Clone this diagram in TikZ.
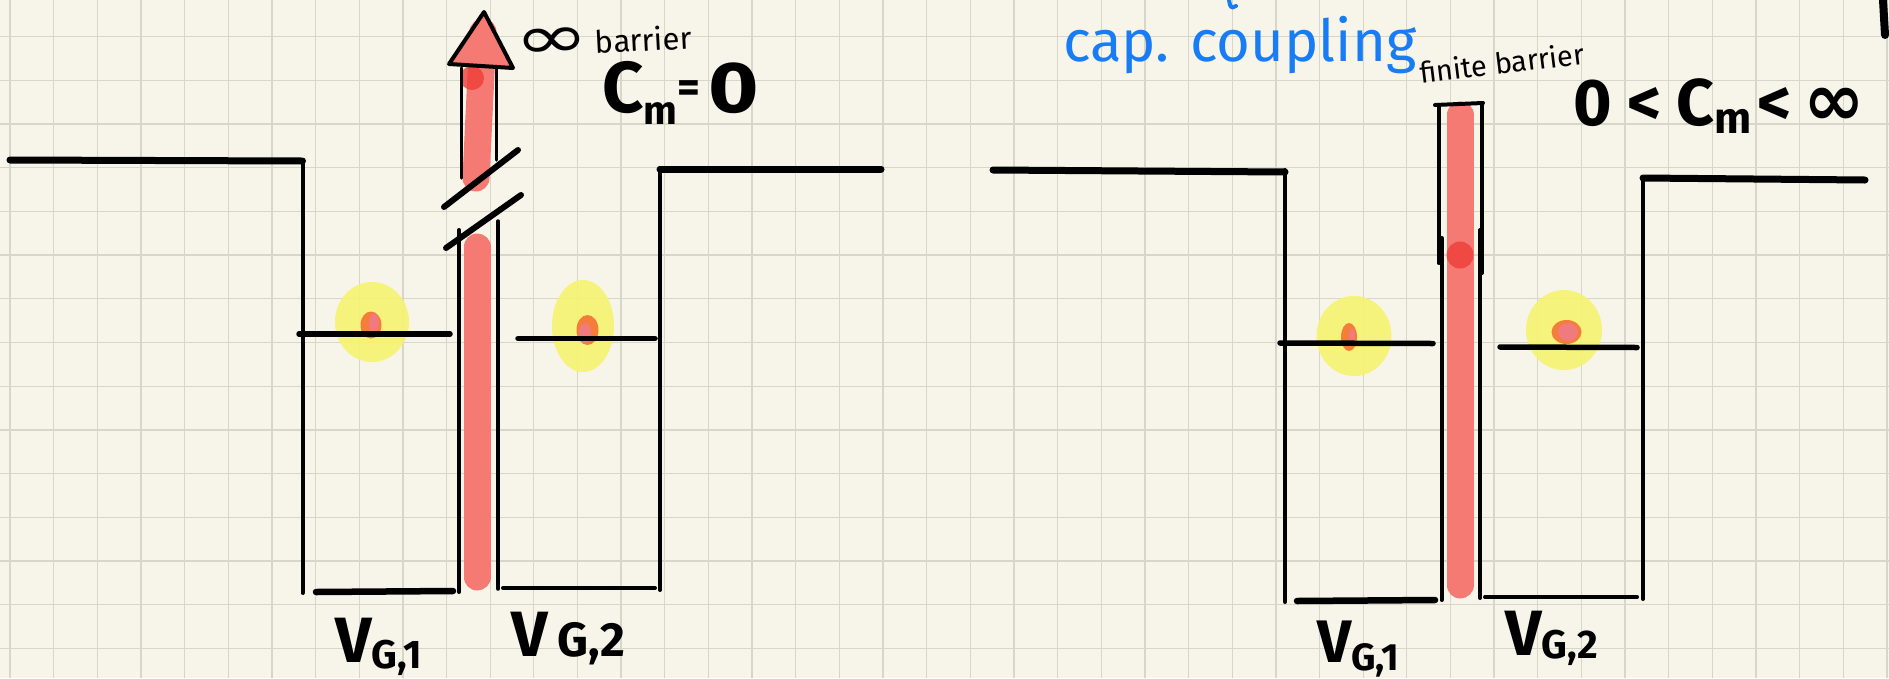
\documentclass[tikz,border=0pt]{standalone}
\usepackage{fontspec}
\setmainfont{Fira Sans}
\newfontfamily\dejavu{DejaVu Sans}
\definecolor{paper}{RGB}{247,245,233}
\definecolor{gridc}{RGB}{216,214,200}
\definecolor{barred}{RGB}{244,122,115}
\definecolor{darkred}{RGB}{240,60,56}
\definecolor{hiyel}{RGB}{245,243,112}
\definecolor{dotor}{RGB}{245,125,58}
\definecolor{dotpk}{RGB}{240,122,125}
\definecolor{inkblue}{RGB}{24,124,245}
\tikzset{
 wall/.style={line width=4pt, line cap=round},
 thinwall/.style={line width=3.5pt, line cap=round},
 plateau/.style={line width=7pt, line cap=round},
 level/.style={line width=5.5pt, line cap=round},
 floorline/.style={line width=6.5pt, line cap=round},
 thinfloor/.style={line width=4pt, line cap=round},
 slash/.style={line width=6pt, line cap=round},
 redbar/.style={line width=27pt, line cap=round, draw=barred},
 glow/.style={fill=hiyel, fill opacity=0.9},
 lbl/.style={inner sep=0pt, font=\bfseries},
 note/.style={inner sep=0pt},
}
\begin{document}
\begin{tikzpicture}[x=1pt,y=-1pt]
\useasboundingbox (0,0) rectangle (1889,678);
\fill[paper] (0,0) rectangle (1889,678);
% grid
\foreach \i in {0,...,43} \draw[gridc, line width=1.3pt] ({10+43.65*\i},0) -- ({10+43.65*\i},678);
\foreach \j in {0,...,14} \draw[gridc, line width=1.3pt] (0,{36.6+43.7*\j}) -- (1889,{36.6+43.7*\j});

% ================= LEFT DIAGRAM =================
% highlights
\fill[glow] (372,322) ellipse [x radius=37, y radius=40];
\fill[glow] (583,326) ellipse [x radius=31, y radius=46];
\fill[dotor] (371,325) ellipse [x radius=10.5, y radius=13.5];
\fill[dotpk] (374,323) ellipse [x radius=5, y radius=10];
\fill[dotor] (587.5,330) ellipse [x radius=11, y radius=15];
\fill[dotpk] (585,333) ellipse [x radius=6, y radius=10];
% red barrier
\draw[redbar] (483,32) -- (476,178);
\draw[redbar] (477,247) -- (477,577);
\fill[barred] (484,12) -- (449,64) -- (513,68) -- cycle;
\fill[darkred, opacity=0.8] (472,78) circle (12);
\draw[line width=4pt, line join=round, line cap=round] (484,12) -- (449,64) -- (513,68) -- cycle;
% barrier stems
\draw[thinwall] (461.5,68) -- (461.5,178);
\draw[thinwall] (496.5,68) -- (496.5,160);
\draw[wall] (459,230) -- (459,592);
\draw[thinwall] (498,221) -- (498,589);
% break marks
\draw[slash] (444,207) -- (518,150);
\draw[slash] (446,248) -- (521,195);
% left well
\draw[plateau] (10,160) -- (302.5,161);
\draw[wall] (302.5,160) -- (302.5,593);
\draw[level] (299,334) -- (450,334);
\draw[floorline] (316,592) -- (453,591);
% right well
\draw[wall] (660,168) -- (660,590);
\draw[plateau] (660,169) -- (881,169);
\draw[level] (518,338.5) -- (655,338.5);
\draw[thinfloor] (503,588) -- (655,588);
% labels
\node[note, anchor=base west, rotate=3] (inflbl) at (515,58)
  {\raisebox{-3pt}{\fontsize{62}{62}\selectfont\dejavu\scalebox{1.45}[1.0]{∞}}\hspace{6pt}{\fontsize{31}{31}\selectfont barrier}};
\node[lbl, anchor=base west] (cmzero) at (602,112)
  {\fontsize{72}{72}\selectfont C\raisebox{-12pt}{\fontsize{40}{40}\selectfont m}\raisebox{10pt}{\fontsize{44}{44}\selectfont =}\hspace{8pt}\scalebox{1.2}[1]{0}};
\node[lbl, anchor=base west] (vgaL) at (335,662)
  {\fontsize{64}{64}\selectfont V\raisebox{-6pt}{\fontsize{40}{40}\selectfont G,1}};
\node[lbl, anchor=base west] (vgbL) at (511,656)
  {\fontsize{64}{64}\selectfont V\hspace{10pt}{\fontsize{48}{48}\selectfont G,2}};

% ================= RIGHT DIAGRAM =================
\fill[glow] (1354,336) ellipse [x radius=37.5, y radius=40];
\fill[glow] (1564,330) ellipse [x radius=38, y radius=40];
\fill[dotor] (1349,337) ellipse [x radius=8, y radius=14];
\fill[dotpk] (1352,336) ellipse [x radius=3, y radius=8];
\fill[dotor] (1566.5,332) ellipse [x radius=15, y radius=12];
\fill[dotpk] (1568,332) ellipse [x radius=10, y radius=9];
% barrier
\draw[redbar] (1460,115) -- (1460,585);
\fill[darkred, opacity=0.8] (1460,255) circle (13.5);
\draw[wall] (1435,105) -- (1483,103);
\draw[wall] (1438.5,105) -- (1438.5,263);
\draw[wall] (1441.5,238) -- (1441.5,600);
\draw[wall] (1482,103) -- (1482,273);
\draw[wall] (1480,230) -- (1480,598);
% left well
\draw[plateau] (993,170) -- (1285,172);
\draw[wall] (1285,170) -- (1285,602);
\draw[level] (1280,343) -- (1433,343.5);
\draw[floorline] (1297,601) -- (1435,600);
% right well
\draw[wall] (1643,177) -- (1643,599);
\draw[plateau] (1643,178) -- (1865,180);
\draw[level] (1500,347) -- (1637,347.5);
\draw[thinfloor] (1485,597) -- (1637,597);
% labels
\node[note, anchor=base west, text=inkblue] (caplbl) at (1063,61)
  {\fontsize{58}{58}\selectfont cap. coupling};
\node[note, anchor=base west, rotate=7] (finlbl) at (1421,84)
  {\fontsize{29}{29}\selectfont finite barrier};
\node[lbl, anchor=base west] (cmrange) at (1573,125)
  {\fontsize{66}{66}\selectfont 0\hspace{16pt}<\hspace{14pt}C\raisebox{-8pt}{\fontsize{44}{44}\selectfont m}\hspace{6pt}<\hspace{12pt}{\dejavu\bfseries\scalebox{1.12}{∞}}};
\node[lbl, anchor=base west] (vgaR) at (1317,662)
  {\fontsize{60}{60}\selectfont V\raisebox{-8pt}{\fontsize{38}{38}\selectfont G,1}};
\node[lbl, anchor=base west] (vgbR) at (1505,655)
  {\fontsize{64}{64}\selectfont V\raisebox{-3pt}{\fontsize{40}{40}\selectfont G,2}};
% stray strokes at the edges
\draw[inkblue, line width=4pt, line cap=round] (1229,0) -- (1230,5) .. controls (1231,8) and (1234,8) .. (1236,6);
\draw[line width=8pt, line cap=round] (1883,0) -- (1885,35);
\end{tikzpicture}
\end{document}
